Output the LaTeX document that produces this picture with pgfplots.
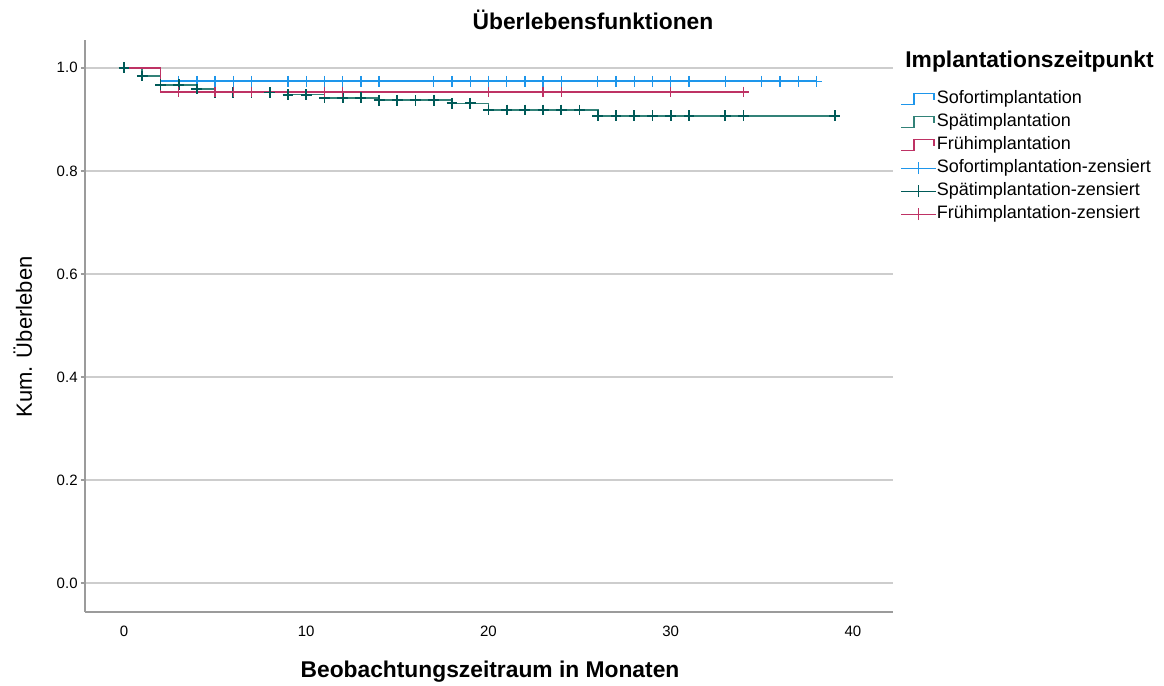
\documentclass[border=0pt]{standalone}
\usepackage{pgfplots}
\pgfplotsset{compat=1.18}
\usepackage{fontspec}
\setmainfont{Liberation Sans}
\definecolor{sof}{RGB}{30,150,235}
\definecolor{spl}{RGB}{50,130,120}
\definecolor{spm}{RGB}{0,90,88}
\definecolor{fru}{RGB}{190,50,100}
\definecolor{gridc}{RGB}{205,205,205}
\definecolor{axc}{RGB}{155,155,155}
\pgfplotsset{
  steplegend/.style={legend image code/.code={
    \draw[line width=0.7pt] (0pt,-2.5pt) -- (6.5pt,-2.5pt) -- (6.5pt,3pt) -- (16.5pt,3pt) -- (16.5pt,-0.5pt);}},
  censlegend/.style={legend image code/.code={
    \draw[line width=0.7pt] (0pt,0pt) -- (17.5pt,0pt);
    \draw[line width=0.7pt] (8.75pt,-3pt) -- (8.75pt,3pt);}}
}
\begin{document}
\begin{tikzpicture}
\useasboundingbox (-42.5pt,-37pt) rectangle (539.5pt,306pt);
\begin{axis}[
  name=ax, at={(0,0)}, anchor=south west,
  scale only axis, width=404pt, height=286pt,
  xmin=-2.14, xmax=42.2, ymin=-0.056, ymax=1.054,
  axis x line*=bottom, axis y line*=left,
  axis line style={draw=axc, line width=1pt},
  xtick={0,10,20,30,40}, ytick={0,0.2,0.4,0.6,0.8,1.0},
  ymajorgrids, major grid style={draw=gridc, line width=1pt},
  tick align=inside, major tick length=2pt,
  ytick style={draw=axc, line width=0.8pt, xshift=-2pt},
  xtick style={draw=none},
  yticklabel style={anchor=east, inner sep=0pt, xshift=-3.5pt, font=\fontsize{7.5}{9}\selectfont},
  xticklabel style={anchor=north, inner sep=0pt, yshift=-7pt, font=\fontsize{7.5}{9}\selectfont},
  /pgf/number format/assume math mode=true,
  yticklabel={\pgfmathprintnumber[fixed, fixed zerofill, precision=1]{\tick}},
  legend cell align=left,
  legend style={at={(axis description cs:1.0087,0.912)}, anchor=north west, draw=none, fill=none,
    inner sep=0pt, row sep=3pt, font=\fontsize{9}{10}\selectfont,
    nodes={inner sep=0pt, xshift=1.5pt, text height=6.5pt, text depth=2pt}},
  legend entries={Sofortimplantation, Spätimplantation, Frühimplantation,
    Sofortimplantation-zensiert, Spätimplantation-zensiert, Frühimplantation-zensiert},
]
% survival step lines
\addplot[const plot, sof, line width=0.8pt, steplegend] coordinates {
  (0,1) (2,0.974) (38,0.974)};
\addplot[const plot, spl, line width=0.8pt, steplegend] coordinates {
  (0,1) (1,0.984) (2,0.967) (4,0.959) (5,0.952) (9,0.948) (11,0.942)
  (14,0.937) (18,0.931) (20,0.918) (26,0.907) (39,0.907)};
\addplot[const plot, fru, line width=0.8pt, steplegend] coordinates {
  (0,1) (2,0.953) (34,0.953)};
% censored marks
\addplot[only marks, mark=+, mark size=2.7pt, sof, mark options={line width=0.7pt}, censlegend] coordinates {
  (3,0.974) (4,0.974) (5,0.974) (6,0.974) (7,0.974) (9,0.974) (10,0.974) (11,0.974)
  (12,0.974) (13,0.974) (14,0.974) (17,0.974) (18,0.974) (19,0.974) (20,0.974)
  (21,0.974) (22,0.974) (23,0.974) (24,0.974) (26,0.974) (27,0.974) (28,0.974)
  (29,0.974) (30,0.974) (31,0.974) (33,0.974) (35,0.974) (36,0.974) (37,0.974) (38,0.974)};
\addplot[only marks, mark=+, mark size=2.7pt, spm, mark options={line width=0.9pt}, censlegend] coordinates {
  (0,1) (1,0.984) (2,0.967) (3,0.967) (4,0.959) (5,0.952) (6,0.952) (7,0.952) (8,0.952)
  (9,0.948) (10,0.948) (11,0.942) (12,0.942) (13,0.942) (14,0.937) (15,0.937)
  (16,0.937) (17,0.937) (18,0.931) (19,0.931) (20,0.918) (21,0.918) (22,0.918)
  (23,0.918) (24,0.918) (25,0.918) (26,0.907) (27,0.907) (28,0.907) (29,0.907)
  (30,0.907) (31,0.907) (33,0.907) (34,0.907) (39,0.907)};
\addplot[only marks, mark=+, mark size=2.7pt, fru, mark options={line width=0.7pt}, censlegend] coordinates {
  (3,0.953) (5,0.953) (6,0.953) (7,0.953) (11,0.953) (12,0.953) (20,0.953)
  (23,0.953) (24,0.953) (30,0.953) (34,0.953)};
\end{axis}
\node[anchor=base, font=\fontsize{11.4}{13}\selectfont\bfseries, inner sep=0pt] at (254pt,291pt) {Überlebensfunktionen};
\node[anchor=base, font=\fontsize{11.4}{13}\selectfont\bfseries, inner sep=0pt] at (202.5pt,-33pt) {Beobachtungszeitraum in Monaten};
\node[anchor=base, rotate=90, font=\fontsize{11}{13}\selectfont, inner sep=0pt] at (-26.5pt,137.5pt) {Kum. Überleben};
\node[anchor=base west, font=\fontsize{11.4}{13}\selectfont\bfseries, inner sep=0pt] at (410pt,272pt) {Implantationszeitpunkt};
\end{tikzpicture}
\end{document}
